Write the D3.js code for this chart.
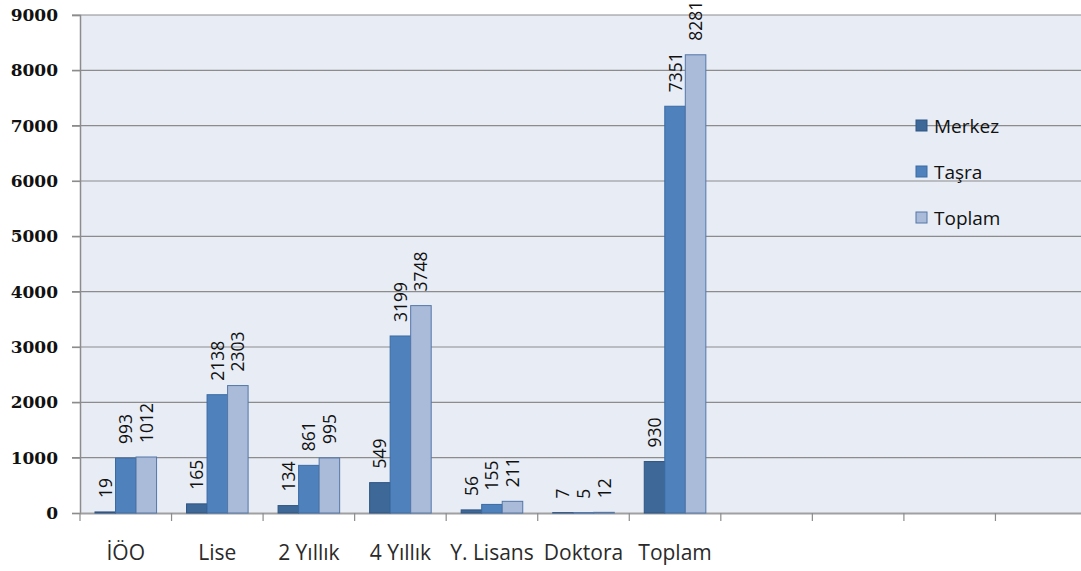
<!DOCTYPE html>
<html>
<head>
<meta charset="utf-8">
<script src="https://cdn.jsdelivr.net/npm/d3@7"></script>
<style>
  body { margin: 0; background: #fff; }
  svg { display: block; font-family: "Open Sans", sans-serif; }
</style>
</head>
<body>
<svg width="1081" height="571"></svg>
<script>
"use strict";

var categories = ["İÖO", "Lise", "2 Yıllık", "4 Yıllık", "Y. Lisans", "Doktora", "Toplam", "", " ", "  ", "   "];
var series = ["Merkez", "Taşra", "Toplam"];
var merkez = [19, 165, 134, 549, 56, 7, 930];
var tasra = [993, 2138, 861, 3199, 155, 5, 7351];
var toplam = [1012, 2303, 995, 3748, 211, 12, 8281];
var yTicks = [0, 1000, 2000, 3000, 4000, 5000, 6000, 7000, 8000, 9000];

var colors = ["#3e6898", "#4f81bd", "#a9bbd9"];
var strokes = ["#2f5583", "#3b6aa3", "#5577a8"];

var svg = d3.select("svg");
var plotLeft = 80, plotRight = 1087, plotTop = 15, plotBottom = 513;

var x = d3.scaleBand().domain(categories).range([plotLeft, plotRight]);
var xs = d3.scaleBand().domain(series).range([0, x.bandwidth()]).paddingInner(0).paddingOuter(0.73);
var y = d3.scaleLinear().domain([0, 9000]).range([plotBottom, plotTop]);

// plot background
svg.append("rect")
  .attr("x", plotLeft).attr("y", plotTop)
  .attr("width", plotRight - plotLeft).attr("height", plotBottom - plotTop)
  .attr("fill", "#e7ecf5");

// gridlines
svg.append("g")
  .selectAll("line")
  .data(yTicks.slice(1))
  .enter().append("line")
  .attr("x1", plotLeft - 8).attr("x2", plotRight)
  .attr("y1", function (d) { return y(d); })
  .attr("y2", function (d) { return y(d); })
  .attr("stroke", "#8c8c8c").attr("stroke-width", 1.2);

// y axis
var yAxis = svg.append("g")
  .attr("transform", "translate(" + plotLeft + ",0)")
  .call(d3.axisLeft(y).tickValues(yTicks).tickSize(8).tickPadding(14).tickFormat(d3.format("d")));
yAxis.select(".domain").attr("stroke", "#8c8c8c").attr("stroke-width", 1.5);
yAxis.selectAll(".tick line").attr("stroke", "#8c8c8c").attr("stroke-width", 1.2);
yAxis.selectAll("text")
  .attr("font-size", 17).attr("font-weight", "bold").attr("fill", "#111")
  .attr("font-family", "'DejaVu Serif', serif");

// x axis
var xAxis = svg.append("g")
  .attr("transform", "translate(0," + plotBottom + ")")
  .call(d3.axisBottom(x).tickSize(0).tickPadding(32));
xAxis.select(".domain").attr("stroke", "#a0a0a0").attr("stroke-width", 2);
xAxis.selectAll("text")
  .attr("font-size", 21).attr("fill", "#2a2a2a")
  .attr("font-family", "'Open Sans', sans-serif");

// x ticks between categories
svg.append("g")
  .selectAll("line")
  .data(categories)
  .enter().append("line")
  .attr("x1", function (d) { return x(d); })
  .attr("x2", function (d) { return x(d); })
  .attr("y1", plotBottom).attr("y2", plotBottom + 8)
  .attr("stroke", "#8c8c8c").attr("stroke-width", 1.2);

// bars
var values = [merkez, tasra, toplam];
var rows = [];
categories.slice(0, merkez.length).forEach(function (c, i) {
  series.forEach(function (s, j) {
    rows.push({ cat: c, series: s, idx: j, value: values[j][i] });
  });
});

svg.append("g")
  .selectAll("rect")
  .data(rows)
  .enter().append("rect")
  .attr("x", function (d) { return x(d.cat) + xs(d.series); })
  .attr("y", function (d) { return y(d.value); })
  .attr("width", xs.bandwidth())
  .attr("height", function (d) { return plotBottom - y(d.value); })
  .attr("fill", function (d) { return colors[d.idx]; })
  .attr("stroke", function (d) { return strokes[d.idx]; })
  .attr("stroke-width", 1);

// value labels, rotated
svg.append("g")
  .selectAll("text")
  .data(rows)
  .enter().append("text")
  .attr("transform", function (d) {
    var cx = x(d.cat) + xs(d.series) + xs.bandwidth() / 2 + 6.5;
    var cy = y(d.value) - 14;
    return "translate(" + cx + "," + cy + ") rotate(-90)";
  })
  .attr("font-size", 17.5)
  .attr("fill", "#111")
  .text(function (d) { return d.value; });

// legend
var legend = svg.append("g")
  .attr("transform", "translate(916,120)");
var item = legend.selectAll("g")
  .data(series)
  .enter().append("g")
  .attr("transform", function (d, i) { return "translate(0," + (i * 46) + ")"; });
item.append("rect")
  .attr("width", 11).attr("height", 11)
  .attr("fill", function (d, i) { return colors[i]; })
  .attr("stroke", function (d, i) { return strokes[i]; });
item.append("text")
  .attr("x", 18).attr("y", 12.5)
  .attr("font-size", 19).attr("fill", "#111")
  .text(function (d) { return d; });
</script>
</body>
</html>
